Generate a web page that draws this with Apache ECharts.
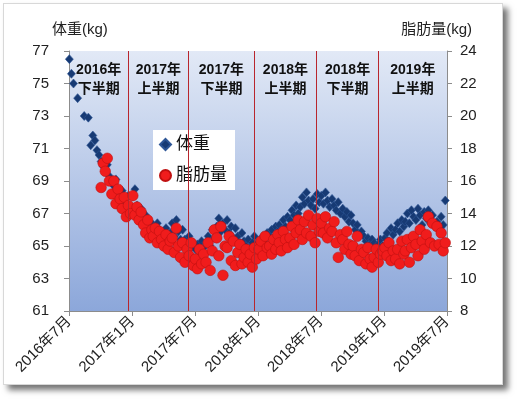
<!DOCTYPE html>
<html>
<head>
<meta charset="utf-8">
<script src="https://cdn.jsdelivr.net/npm/echarts@6/dist/echarts.min.js"></script>
<style>
  html, body { margin: 0; padding: 0; background: #ffffff; }
  #panel { position: absolute; left: 3px; top: 3px; width: 498px; height: 380px;
           background: #ffffff; border: 1px solid #d8d8d8;
           box-shadow: 5px 5px 6px rgba(0,0,0,0.55); }
  #chart { position: absolute; left: 0; top: 0; width: 518px; height: 402px; }
</style>
</head>
<body>
<div id="panel"></div>
<div id="chart"></div>
<script>
// ---- data ----
const months = [
  '2016-07','2016-08','2016-09','2016-10','2016-11','2016-12',
  '2017-01','2017-02','2017-03','2017-04','2017-05','2017-06',
  '2017-07','2017-08','2017-09','2017-10','2017-11','2017-12',
  '2018-01','2018-02','2018-03','2018-04','2018-05','2018-06',
  '2018-07','2018-08','2018-09','2018-10','2018-11','2018-12',
  '2019-01','2019-02','2019-03','2019-04','2019-05','2019-06'
];
const readingDays = [2, 8, 14, 20, 26];

// 体重 (kg), 5 readings per month
const weight = [
  76.5, 75.6, 75.0, null, 74.1,
  null, null, 73.0, null, 72.9,
  71.2, 71.8, 71.5, 70.9, 70.6,
  70.2, 69.9, 69.6, 70.0, 69.3,
  69.0, 68.7, 69.1, 68.5, 68.3,
  68.4, 68.0, 67.6, 68.1, 67.4,
  67.2, 68.5, 67.5, 66.9, 67.3,
  66.6, 66.9, 66.2, 66.5, 66.0,
  66.3, 65.8, 66.4, 66.0, 65.7,
  65.9, 66.1, 65.5, 65.8, 66.4,
  65.6, 66.6, 65.9, 65.4, 66.0,
  65.4, 65.1, 65.6, 64.9, 65.2,
  64.8, 65.1, 64.6, 65.3, 64.9,
  65.2, 65.6, 65.0, 66.0, 65.5,
  66.2, 66.7, 65.9, 66.4, 66.0,
  66.6, 65.8, 66.2, 65.5, 66.1,
  65.6, 65.2, 65.8, 65.3, 65.0,
  65.4, 64.9, 65.2, 65.6, 64.8,
  65.3, 65.0, 65.6, 65.2, 65.8,
  65.6, 66.0, 65.5, 66.2, 65.9,
  66.3, 66.0, 66.6, 66.2, 66.8,
  66.6, 67.2, 66.9, 67.5, 67.0,
  67.4, 68.0, 67.6, 68.3, 67.8,
  67.5, 67.9, 67.3, 68.2, 67.7,
  68.1, 67.6, 68.3, 67.8, 67.4,
  67.9, 67.5, 67.2, 67.7, 67.0,
  67.3, 66.8, 67.1, 66.5, 66.9,
  66.4, 66.0, 66.3, 65.7, 65.9,
  65.6, 65.3, 65.5, 65.1, 65.4,
  65.2, 64.9, 65.1, 65.4, 65.0,
  65.5, 65.8, 65.3, 66.1, 65.7,
  66.0, 66.4, 65.9, 66.6, 66.2,
  66.5, 67.0, 66.4, 67.2, 66.8,
  66.6, 67.3, 66.9, 66.3, 67.1,
  66.7, 67.2, 66.4, 66.9, 66.2,
  66.5, 66.0, 66.8, 66.3, 67.8
];

// 脂肪量 (kg), 5 readings per month
const fat = [
  null, null, null, null, null,
  null, null, null, null, null,
  null, null, null, null, null,
  15.6, 17.1, 16.6, 17.4, 16.0,
  15.2, 16.0, 14.6, 15.5, 14.9,
  14.3, 15.0, 13.8, 14.5, 14.0,
  15.1, 13.9, 14.4, 13.6, 14.1,
  13.3, 12.8, 13.6, 12.5, 13.0,
  12.6, 13.1, 12.2, 12.9, 12.4,
  12.0, 12.7, 11.8, 12.3, 12.5,
  11.6, 13.1, 12.0, 11.3, 12.2,
  11.0, 11.8, 11.4, 12.2, 10.8,
  11.2, 10.6, 11.8, 10.9, 11.5,
  11.0, 12.2, 10.5, 11.7, 13.0,
  12.5, 11.4, 13.2, 10.2, 12.0,
  11.9, 12.6, 11.1, 12.3, 10.8,
  11.6, 12.1, 10.9, 11.3, 11.8,
  11.0, 11.5, 10.7, 11.9, 11.2,
  11.8, 12.3, 11.4, 12.6, 11.9,
  12.0, 11.5, 12.4, 11.8, 12.7,
  12.2, 11.7, 12.9, 12.4, 11.9,
  12.5, 13.2, 12.1, 12.8, 13.6,
  13.0, 12.4, 13.5, 12.8, 13.9,
  12.6, 13.3, 12.2, 13.7, 12.9,
  13.4, 12.8, 13.8, 12.5, 13.1,
  12.9, 13.5, 12.2, 11.3, 12.7,
  12.4, 11.8, 12.9, 12.1, 11.5,
  12.0, 11.4, 12.6, 11.1, 11.8,
  11.6, 10.9, 11.9, 11.2, 10.7,
  11.3, 11.8, 11.0, 11.5, 11.7,
  11.9, 11.4, 12.2, 11.1, 11.7,
  11.2, 11.8, 10.9, 12.3, 11.5,
  11.7, 12.4, 11.0, 11.9, 12.6,
  12.1, 11.4, 13.0, 12.3, 11.8,
  12.7, 13.8, 12.2, 13.4, 12.0,
  13.2, 12.1, 12.8, 11.7, 12.2
];

const xTicks = ['2016-07-01','2017-01-01','2017-07-01','2018-01-01','2018-07-01','2019-01-01','2019-07-01'];
const periodBounds = ['2016-07-01','2016-12-20','2017-06-12','2017-12-20','2018-06-18','2018-12-15','2019-07-01'];
const periodLabels = ['2016年\n下半期','2017年\n上半期','2017年\n下半期','2018年\n上半期','2018年\n下半期','2019年\n上半期'];
const leftTicks = { min: 61, max: 77, interval: 2 };
const rightTicks = { min: 8, max: 24, interval: 2 };

// ---- build ----
function ts(s) { const p = s.split('-'); return Date.UTC(+p[0], +p[1] - 1, +p[2]); }
function pad(n) { return n < 10 ? '0' + n : '' + n; }
function pairs(values) {
  const out = [];
  values.forEach(function (v, i) {
    if (v == null) return;
    const d = months[Math.floor(i / 5)] + '-' + pad(readingDays[i % 5]);
    out.push([ts(d), v]);
  });
  return out;
}
const tickTs = xTicks.map(ts);
const FONT = '"Liberation Sans", "Noto Sans CJK JP", sans-serif';
const LINE_RED = '#b8262d';

const chart = echarts.init(document.getElementById('chart'), null, { renderer: 'canvas' });
chart.setOption({
  backgroundColor: 'transparent',
  animation: false,
  textStyle: { fontFamily: FONT },
  grid: {
    left: 69, right: 71, top: 51, bottom: 91, show: true, borderWidth: 0,
    backgroundColor: new echarts.graphic.LinearGradient(0, 0, 0, 1, [
      { offset: 0, color: '#e2e9f6' }, { offset: 1, color: '#8ca7da' }
    ])
  },
  legend: {
    orient: 'vertical', left: 153, top: 130,
    backgroundColor: '#ffffff', padding: [6, 8, 6, 6], itemGap: 14,
    itemWidth: 11, itemHeight: 11,
    textStyle: { fontSize: 17, color: '#111', fontFamily: FONT },
    data: [{ name: '体重', icon: 'diamond' }, { name: '脂肪量', icon: 'circle' }]
  },
  graphic: [
    { type: 'text', left: 52, top: 22, style: { text: '体重(kg)', fontSize: 15, fill: '#222', fontFamily: FONT } },
    { type: 'text', right: 46, top: 22, style: { text: '脂肪量(kg)', fontSize: 15, fill: '#222', fontFamily: FONT } }
  ],
  xAxis: {
    type: 'value', min: tickTs[0], max: tickTs[tickTs.length - 1],
    splitLine: { show: false },
    axisLine: { show: true, lineStyle: { color: '#8c8c8c' } },
    axisTick: { show: true, length: 5, lineStyle: { color: '#8c8c8c' }, customValues: tickTs },
    axisLabel: {
      customValues: tickTs, rotate: 45, margin: 8, fontSize: 15, color: '#222', fontFamily: FONT,
      formatter: function (v) { const d = new Date(v); return d.getUTCFullYear() + '年' + (d.getUTCMonth() + 1) + '月'; }
    }
  },
  yAxis: [
    {
      type: 'value', min: leftTicks.min, max: leftTicks.max, interval: leftTicks.interval,
      splitLine: { show: false },
      axisLine: { show: true, lineStyle: { color: '#8c8c8c' } },
      axisTick: { show: true, length: 5, lineStyle: { color: '#8c8c8c' } },
      axisLabel: { fontSize: 15, color: '#222', margin: 20, fontFamily: FONT }
    },
    {
      type: 'value', min: rightTicks.min, max: rightTicks.max, interval: rightTicks.interval,
      position: 'right',
      splitLine: { show: false },
      axisLine: { show: true, lineStyle: { color: '#8c8c8c' } },
      axisTick: { show: true, length: 5, lineStyle: { color: '#8c8c8c' } },
      axisLabel: { fontSize: 15, color: '#222', margin: 13, fontFamily: FONT }
    }
  ],
  series: [
    {
      name: '体重', type: 'scatter', yAxisIndex: 0, symbol: 'diamond', symbolSize: [8, 9],
      itemStyle: { color: '#173a74', borderColor: '#2d5596', borderWidth: 0.6, opacity: 1 },
      data: pairs(weight), z: 3,
      markLine: {
        silent: true, symbol: 'none', label: { show: false },
        lineStyle: { color: LINE_RED, width: 1, type: 'solid', opacity: 1 },
        emphasis: { disabled: true },
        data: periodBounds.slice(1, -1).map(function (d) {
          return { xAxis: ts(d), lineStyle: { color: LINE_RED, width: 1, type: 'solid' } };
        })
      },
      markArea: {
        silent: true,
        itemStyle: { color: 'rgba(0,0,0,0)' },
        label: {
          show: true, position: 'insideTop', distance: 10,
          fontSize: 14, fontWeight: 'bold', color: '#111', lineHeight: 19, fontFamily: FONT, align: 'center'
        },
        data: periodLabels.map(function (t, i) {
          return [{ name: t, xAxis: ts(periodBounds[i]) }, { xAxis: ts(periodBounds[i + 1]) }];
        })
      }
    },
    {
      name: '脂肪量', type: 'scatter', yAxisIndex: 1, symbol: 'circle', symbolSize: 10.5,
      itemStyle: { color: '#f01c1c', borderColor: '#c01010', borderWidth: 0.6, opacity: 1 },
      data: pairs(fat), z: 4
    }
  ]
});
</script>
</body>
</html>
